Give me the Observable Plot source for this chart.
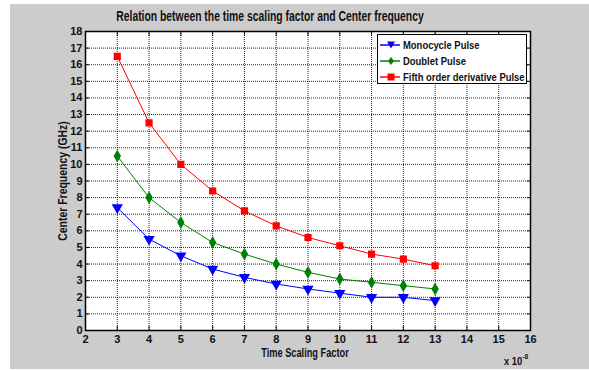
<!DOCTYPE html>
<html>
<head>
<meta charset="utf-8">
<script src="https://cdn.jsdelivr.net/npm/d3@7"></script>
<script src="https://cdn.jsdelivr.net/npm/@observablehq/plot@0.6"></script>
<style>
  html, body { margin: 0; padding: 0; background: #fff; }
  #wrap { position: relative; width: 589px; height: 370px; overflow: hidden; background: #fff;
          font-family: "Liberation Sans", Arial, sans-serif; font-weight: bold; color: #111; }
  #bg { position: absolute; left: 10px; top: 4px; width: 579px; height: 365px; background: #cccccc; }
  #chart { position: absolute; left: 0; top: 0; }
  .t { position: absolute; white-space: nowrap; line-height: 1; }
  #title { left: 270px; top: 16px; font-size: 14px; transform: translate(-50%, -50%) scaleX(0.74); }
  #xlabel { left: 305px; top: 353px; font-size: 12px; transform: translate(-50%, -50%) scaleX(0.77); }
  #ylabel { left: 63px; top: 181px; font-size: 12px; transform: translate(-50%, -50%) rotate(-90deg) scaleX(0.87); }
  #exp { left: 504px; top: 354px; font-size: 11.5px; transform: scaleX(0.82); transform-origin: left center; }
  #exp sup { font-size: 8px; position: relative; top: -1px; }
  #legend { position: absolute; left: 377px; top: 34px; width: 150px; height: 50px; background: #fff; border: 1px solid #000; box-sizing: border-box; }
  .li { position: absolute; left: 1px; height: 14px; display: flex; align-items: center; font-size: 11.5px; white-space: nowrap; }
  .li svg { flex: none; }
  .li span { display: inline-block; transform: scaleX(0.82); transform-origin: left center; margin-left: 2px; }
</style>
</head>
<body>
<div id="wrap">
  <div id="bg"></div>
  <div id="chart"></div>
  <div id="title" class="t">Relation between the time scaling factor and Center frequency</div>
  <div id="xlabel" class="t">Time Scaling Factor</div>
  <div id="ylabel" class="t">Center Frequency (GHz)</div>
  <div id="exp" class="t">x 10<sup>-8</sup></div>
  <div id="legend"></div>
</div>
<script>
// ---- data ----
const scaling = [3, 4, 5, 6, 7, 8, 9, 10, 11, 12, 13];
const monocycle = [7.4, 5.5, 4.5, 3.7, 3.2, 2.8, 2.5, 2.25, 2.0, 2.0, 1.8];
const doublet   = [10.5, 8.0, 6.5, 5.3, 4.6, 4.0, 3.5, 3.1, 2.9, 2.7, 2.5];
const fifth     = [16.5, 12.5, 10.0, 8.4, 7.2, 6.3, 5.6, 5.1, 4.6, 4.3, 3.9];
const seriesNames = ["Monocycle Pulse", "Doublet Pulse", "Fifth order derivative Pulse"];
const seriesColors = ["#0000ff", "#008000", "#ff0000"];
const xTicks = [2,3,4,5,6,7,8,9,10,11,12,13,14,15,16];
const yTicks = [0,1,2,3,4,5,6,7,8,9,10,11,12,13,14,15,16,17,18];

const rows = [];
[monocycle, doublet, fifth].forEach((vals, i) => {
  vals.forEach((v, j) => rows.push({series: seriesNames[i], x: scaling[j], y: v}));
});

const chart = Plot.plot({
  width: 589,
  height: 370,
  marginLeft: 85,
  marginRight: 59,
  marginTop: 31,
  marginBottom: 40,
  style: {background: "transparent", fontFamily: '"Liberation Sans", Arial, sans-serif', fontSize: "11px", fontWeight: "bold", color: "#111"},
  x: {domain: [2, 16]},
  y: {domain: [0, 18]},
  color: {domain: seriesNames, range: seriesColors},
  symbol: {domain: seriesNames, range: ["triangle", "diamond", "square"]},
  marks: [
    Plot.frame({fill: "white"}),
    Plot.gridX(xTicks, {stroke: "#000", strokeOpacity: 0.85, strokeDasharray: "1,1"}),
    Plot.gridY(yTicks, {stroke: "#000", strokeOpacity: 0.85, strokeDasharray: "1,1"}),
    Plot.axisX(xTicks, {anchor: "bottom", tickSize: 0, tickPadding: 5, label: null, tickFormat: d => d}),
    Plot.axisX(xTicks, {anchor: "bottom", tickSize: -4, tickFormat: () => "", label: null}),
    Plot.axisX(xTicks, {anchor: "top", tickSize: -4, tickFormat: () => "", label: null}),
    Plot.axisY(yTicks, {anchor: "left", tickSize: 0, tickPadding: 3, tickFormat: d => d, label: null}),
    Plot.axisY(yTicks, {anchor: "left", tickSize: -4, tickFormat: () => "", label: null}),
    Plot.axisY(yTicks, {anchor: "right", tickSize: -4, tickFormat: () => "", label: null}),
    Plot.line(rows, {x: "x", y: "y", z: "series", stroke: "series", strokeWidth: 1}),
    Plot.dot(rows.filter(d => d.series === seriesNames[0]), {x: "x", y: "y", symbol: "series", fill: "series", stroke: "series", r: 3.2, rotate: 180}),
    Plot.dot(rows.filter(d => d.series === seriesNames[1]), {x: "x", y: "y", symbol: "series", fill: "series", stroke: "series", r: 3.0}),
    Plot.dot(rows.filter(d => d.series === seriesNames[2]), {x: "x", y: "y", symbol: "series", fill: "series", stroke: "series", r: 3.2}),
    Plot.frame({stroke: "#000", strokeWidth: 1.5})
  ]
});
document.getElementById("chart").appendChild(chart);

// legend
const leg = document.getElementById("legend");
const shapes = [
  '<path d="M-4,-3.5 L4,-3.5 L0,3.5 Z"/>',
  '<path d="M0,-4 L3,0 L0,4 L-3,0 Z"/>',
  '<rect x="-3.5" y="-3.5" width="7" height="7"/>'
];
seriesNames.forEach((name, i) => {
  const div = document.createElement("div");
  div.className = "li";
  div.style.top = (3 + i * 16) + "px";
  div.innerHTML = `<svg width="22" height="12"><line x1="1" y1="6" x2="21" y2="6" stroke="${seriesColors[i]}" stroke-width="1.5"/><g transform="translate(12,6)" fill="${seriesColors[i]}">${shapes[i]}</g></svg><span>${name}</span>`;
  leg.appendChild(div);
});
</script>
</body>
</html>
